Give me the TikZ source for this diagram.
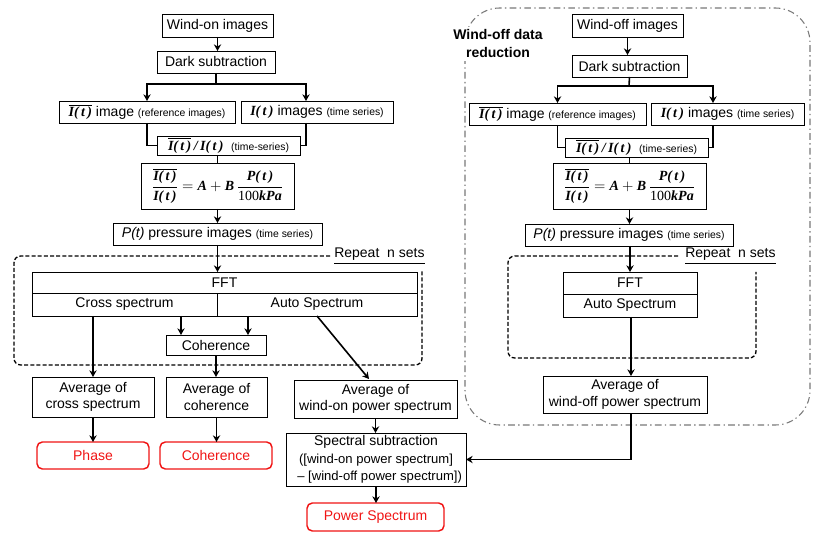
\documentclass[tikz,border=0pt]{standalone}
\usepackage{fontspec}
\setmainfont{Liberation Sans}
\newfontfamily\tnr{Liberation Serif}
\usetikzlibrary{arrows.meta,calc}
\newcommand\Ib{\mbox{\tnr\bfseries\itshape I(\,t\,)}}
\newcommand\Tb[1]{\mbox{\tnr\bfseries\itshape #1}}
\newcommand\sml[1]{{\fontsize{7.8}{9}\selectfont #1}}
\newcommand\bx[7][]{\node[box,#1,minimum width={(#5-#3)*0.75pt},minimum height={(#6-#4)*0.75pt}] (#2) at ({(#3+#5)/2},{(#4+#6)/2}) {#7};}
\definecolor{rd}{RGB}{240,20,20}
\definecolor{dg}{RGB}{120,120,120}
\tikzset{
  box/.style={draw=black,line width=0.7pt,inner sep=0pt,outer sep=0pt,align=center,font=\fontsize{10.5}{12.5}\selectfont},
  res/.style={draw=rd,text=rd,line width=1.1pt,rounded corners=4pt},
  ln/.style={line width=1.2pt},
  arr/.style={line width=1.2pt,-{Stealth[length=5pt,width=5.5pt]}},
  rep/.style={line width=1pt,dash pattern=on 3pt off 1.6pt,rounded corners=5pt},
  dd/.style={draw=dg,line width=0.8pt,dash pattern=on 5pt off 2.5pt on 1pt off 2.5pt,rounded corners=26pt},
  lab/.style={inner sep=0pt,font=\fontsize{10.5}{12.5}\selectfont}
}
\begin{document}
\begin{tikzpicture}[x=0.75pt,y=-0.75pt]
\useasboundingbox (0,0) rectangle (813,534);
% wind-off region
\draw[dd] (465,8) rectangle (810,425);
\node[font=\fontsize{10.5}{13.5}\selectfont\bfseries,align=center,fill=white,inner sep=2pt] (wlab) at (498,44) {Wind-off data\\reduction};
% repeat regions
\draw[rep] (330,256) -- (14,256) -- (14,365) -- (422,365) -- (422,270);
\node[lab,anchor=base west] (rp1) at (334,258) {\underline{Repeat~~n sets}};
\draw[rep] (678,256) -- (508,256) -- (508,358) -- (756,358) -- (756,272);
\node[lab,anchor=base west] (rp2) at (685,258) {\underline{Repeat~~n sets}};
% left column
\bx{won}{162}{14}{273}{37}{Wind-on images}
\bx{dk1}{157}{51}{275}{73}{Dark subtraction}
\bx{ref1}{59}{101}{235}{123}{$\overline{\Ib}$ image \sml{(reference images)}}
\bx{ts1}{241}{101}{393}{123}{$\Ib$ images \sml{(time series)}}
\bx{rat1}{157}{136}{300}{155}{$\overline{\Ib}\,\Tb{/}\,\Ib$ \ \sml{(time-series)}}
\bx{for1}{141}{163}{294}{209}{$\displaystyle\frac{\overline{\Ib}}{\Ib}=\Tb{A}+\Tb{B}\,\frac{\Tb{P(\,t\,)}}{\mbox{\tnr 100\bfseries\itshape kPa}}$}
\bx{pt1}{113}{223}{322}{245}{\textit{P(t)} pressure images \sml{(time series)}}
\bx{fft1}{32}{272}{417}{293}{FFT}
\bx{cs1}{32}{293}{217}{316}{Cross spectrum}
\bx{as1}{217}{293}{417}{316}{Auto Spectrum}
\bx{coh}{166}{335}{266}{355}{Coherence}
\bx{avc}{32}{377}{154}{417}{Average of\\cross spectrum}
\bx{avh}{166}{377}{267}{417}{Average of\\coherence}
\bx{avw}{294}{380}{457}{418}{Average of\\wind-on power spectrum}
\bx[res]{phase}{37}{442}{149}{469}{Phase}
\bx[res]{cohr}{160}{442}{272}{469}{Coherence}
\bx{spec}{286}{433}{466}{486}{Spectral subtraction\\[1pt]{\fontsize{9.8}{12.5}\selectfont ([wind-on power spectrum]}\\{\fontsize{9.8}{12.5}\selectfont\ \ -- [wind-off power spectrum])}}
\bx[res]{pow}{307}{503}{444}{531}{Power Spectrum}
% right column
\bx{woff}{572}{14}{683}{37}{Wind-off images}
\bx{dk2}{572}{55}{687}{77}{Dark subtraction}
\bx{ref2}{469}{103}{646}{125}{$\overline{\Ib}$ image \sml{(reference images)}}
\bx{ts2}{651}{103}{804}{125}{$\Ib$ images \sml{(time series)}}
\bx{rat2}{565}{138}{708}{157}{$\overline{\Ib}\,\Tb{/}\,\Ib$ \ \sml{(time-series)}}
\bx{for2}{553}{163}{706}{209}{$\displaystyle\frac{\overline{\Ib}}{\Ib}=\Tb{A}+\Tb{B}\,\frac{\Tb{P(\,t\,)}}{\mbox{\tnr 100\bfseries\itshape kPa}}$}
\bx{pt2}{525}{224}{733}{246}{\textit{P(t)} pressure images \sml{(time series)}}
\bx{fft2}{563}{272}{697}{294}{FFT}
\bx{as2}{563}{294}{697}{317}{Auto Spectrum}
\bx{avo}{543}{376}{707}{413}{Average of\\wind-off power spectrum}
% left connectors
\draw[arr] (won.south) -- (won.south |- dk1.north);
\coordinate (sp1) at (216,84);
\coordinate (ts1in) at (306,101);
\coordinate (ts1out) at (306,123);
\draw[ln] (dk1.south) -- (sp1);
\draw[arr] (sp1) -| (ref1.north);
\draw[arr] (sp1) -| (ts1in);
\draw[ln] (ref1.south) |- (rat1.west);
\draw[ln] (ts1out) |- (rat1.east);
\draw[ln] (rat1.south -| for1.north) -- (for1.north);
\draw[arr] (for1.south) -- (pt1.north);
\draw[arr] (pt1.south) -- (pt1.south |- fft1.north);
\coordinate (c1) at (181,316);
\coordinate (c2) at (248,316);
\draw[arr] (c1) -- (c1 |- coh.north);
\draw[arr] (c2) -- (c2 |- coh.north);
\draw[arr] (avc.north |- cs1.south) -- (avc.north);
\draw[arr] (coh.south) -- (coh.south |- avh.north);
\coordinate (w1) at (369,379);
\draw[arr] (as1.south) -- (w1);
\draw[arr] (avc.south) -- (avc.south |- phase.north);
\draw[arr] (avh.south) -- (avh.south |- cohr.north);
\draw[arr] (avw.south) -- (avw.south |- spec.north);
\draw[arr] (spec.south) -- (spec.south |- pow.north);
% right connectors
\draw[arr] (woff.south) -- (woff.south |- dk2.north);
\coordinate (sp2) at (629,86);
\coordinate (ts2in) at (713,103);
\coordinate (ts2out) at (713,125);
\draw[ln] (dk2.south) -- (sp2);
\draw[arr] (sp2) -| (ref2.north);
\draw[arr] (sp2) -| (ts2in);
\draw[ln] (ref2.south) |- (rat2.west);
\draw[ln] (ts2out) |- (rat2.east);
\draw[ln] (rat2.south -| for2.north) -- (for2.north);
\draw[arr] (for2.south) -- (for2.south |- pt2.north);
\draw[arr] (fft2.north |- pt2.south) -- (fft2.north);
\coordinate (o1) at (631,317);
\draw[arr] (o1) -- (o1 |- avo.north);
\draw[arr] (o1 |- avo.south) |- (spec.east);
\end{tikzpicture}
\end{document}
